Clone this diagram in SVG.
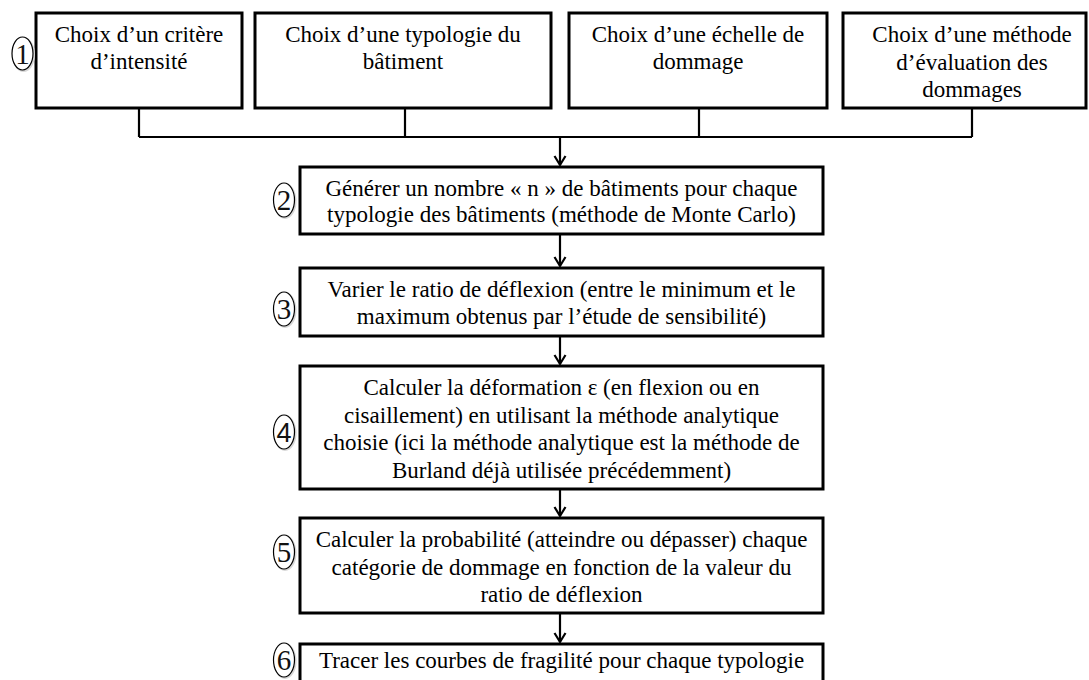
<svg xmlns="http://www.w3.org/2000/svg" width="1089" height="680" viewBox="0 0 1089 680">
<defs>
<style>
.box{fill:#fff;stroke:#000;stroke-width:3}
.t{font-family:"Liberation Serif","Times New Roman",serif;font-size:23px;fill:#000;text-anchor:middle}
.num{font-family:"Liberation Serif","Times New Roman",serif;font-size:29px;fill:#111;text-anchor:middle}
.circ{fill:#fff;stroke:#000;stroke-width:1.2}
.sh{fill:none;stroke:#d8d8d8;stroke-width:2}
.ln{fill:none;stroke:#000;stroke-width:2.2}
</style>
<marker id="ah" markerUnits="userSpaceOnUse" markerWidth="14" markerHeight="14" viewBox="-10 -7 12 14" refX="0" refY="0" orient="auto">
<path d="M-9,-5.5 L0,0 L-9,5.5" fill="none" stroke="#000" stroke-width="2.2"/>
</marker>
</defs>
<rect width="1089" height="680" fill="#fff"/>

<g id="connectors">
<path class="ln" d="M139,108 V137 M405,108 V137 M699,108 V137 M972,108 V137 M139,137 H972"/>
<path class="ln" d="M560,137 V165" marker-end="url(#ah)"/>
<path class="ln" d="M560,234 V266" marker-end="url(#ah)"/>
<path class="ln" d="M560,336 V364" marker-end="url(#ah)"/>
<path class="ln" d="M560,489 V516" marker-end="url(#ah)"/>
<path class="ln" d="M560,613 V642" marker-end="url(#ah)"/>
</g>

<g id="n1a">
<rect class="box" x="36" y="13" width="206" height="95"/>
<text class="t" x="139" y="42">Choix d’un critère</text>
<text class="t" x="139" y="69">d’intensité</text>
</g>
<g id="n1b">
<rect class="box" x="255" y="13" width="296" height="95"/>
<text class="t" x="403" y="42">Choix d’une typologie du</text>
<text class="t" x="403" y="69">bâtiment</text>
</g>
<g id="n1c">
<rect class="box" x="569" y="13" width="258" height="95"/>
<text class="t" x="698" y="42">Choix d’une échelle de</text>
<text class="t" x="698" y="69">dommage</text>
</g>
<g id="n1d">
<rect class="box" x="843" y="13" width="243" height="95"/>
<text class="t" x="972" y="42">Choix d’une méthode</text>
<text class="t" x="972" y="69.5">d’évaluation des</text>
<text class="t" x="972" y="97">dommages</text>
</g>

<g id="n2">
<rect class="box" x="300" y="167" width="523" height="67"/>
<text class="t" x="561.5" y="196">Générer un nombre « n » de bâtiments pour chaque</text>
<text class="t" x="561.5" y="222">typologie des bâtiments (méthode de Monte Carlo)</text>
</g>
<g id="n3">
<rect class="box" x="300" y="268" width="523" height="68"/>
<text class="t" x="561.5" y="297">Varier le ratio de déflexion (entre le minimum et le</text>
<text class="t" x="561.5" y="324">maximum obtenus par l’étude de sensibilité)</text>
</g>
<g id="n4">
<rect class="box" x="300" y="366" width="523" height="123"/>
<text class="t" x="561.5" y="395">Calculer la déformation ε (en flexion ou en</text>
<text class="t" x="561.5" y="422.5">cisaillement) en utilisant la méthode analytique</text>
<text class="t" x="561.5" y="450">choisie (ici la méthode analytique est la méthode de</text>
<text class="t" x="561.5" y="477.5">Burland déjà utilisée précédemment)</text>
</g>
<g id="n5">
<rect class="box" x="300" y="518" width="523" height="95"/>
<text class="t" x="561.5" y="547">Calculer la probabilité (atteindre ou dépasser) chaque</text>
<text class="t" x="561.5" y="574.5">catégorie de dommage en fonction de la valeur du</text>
<text class="t" x="561.5" y="602">ratio de déflexion</text>
</g>
<g id="n6">
<rect class="box" x="300" y="644" width="523" height="80"/>
<text class="t" x="561.5" y="668">Tracer les courbes de fragilité pour chaque typologie</text>
</g>

<g id="c1">
<ellipse class="sh" cx="23.5" cy="54.5" rx="10.5" ry="16.5"/>
<ellipse class="circ" cx="22.5" cy="53.5" rx="10.5" ry="16.5"/>
<text class="num" x="22.5" y="63.5">1</text>
</g>
<g id="c2">
<ellipse class="sh" cx="285" cy="201" rx="10.5" ry="17"/>
<ellipse class="circ" cx="284" cy="200" rx="10.5" ry="17"/>
<text class="num" x="284" y="210">2</text>
</g>
<g id="c3">
<ellipse class="sh" cx="285" cy="310" rx="10.5" ry="17"/>
<ellipse class="circ" cx="284" cy="309" rx="10.5" ry="17"/>
<text class="num" x="284" y="319">3</text>
</g>
<g id="c4">
<ellipse class="sh" cx="285" cy="433" rx="10.5" ry="17"/>
<ellipse class="circ" cx="284" cy="432" rx="10.5" ry="17"/>
<text class="num" x="284" y="442" style="font-family:'Liberation Sans',Arial,sans-serif;font-size:27px">4</text>
</g>
<g id="c5">
<ellipse class="sh" cx="285" cy="553" rx="10.5" ry="17"/>
<ellipse class="circ" cx="284" cy="552" rx="10.5" ry="17"/>
<text class="num" x="284" y="562">5</text>
</g>
<g id="c6">
<ellipse class="sh" cx="285" cy="661" rx="10.5" ry="17"/>
<ellipse class="circ" cx="284" cy="660" rx="10.5" ry="17"/>
<text class="num" x="284" y="670">6</text>
</g>
</svg>
